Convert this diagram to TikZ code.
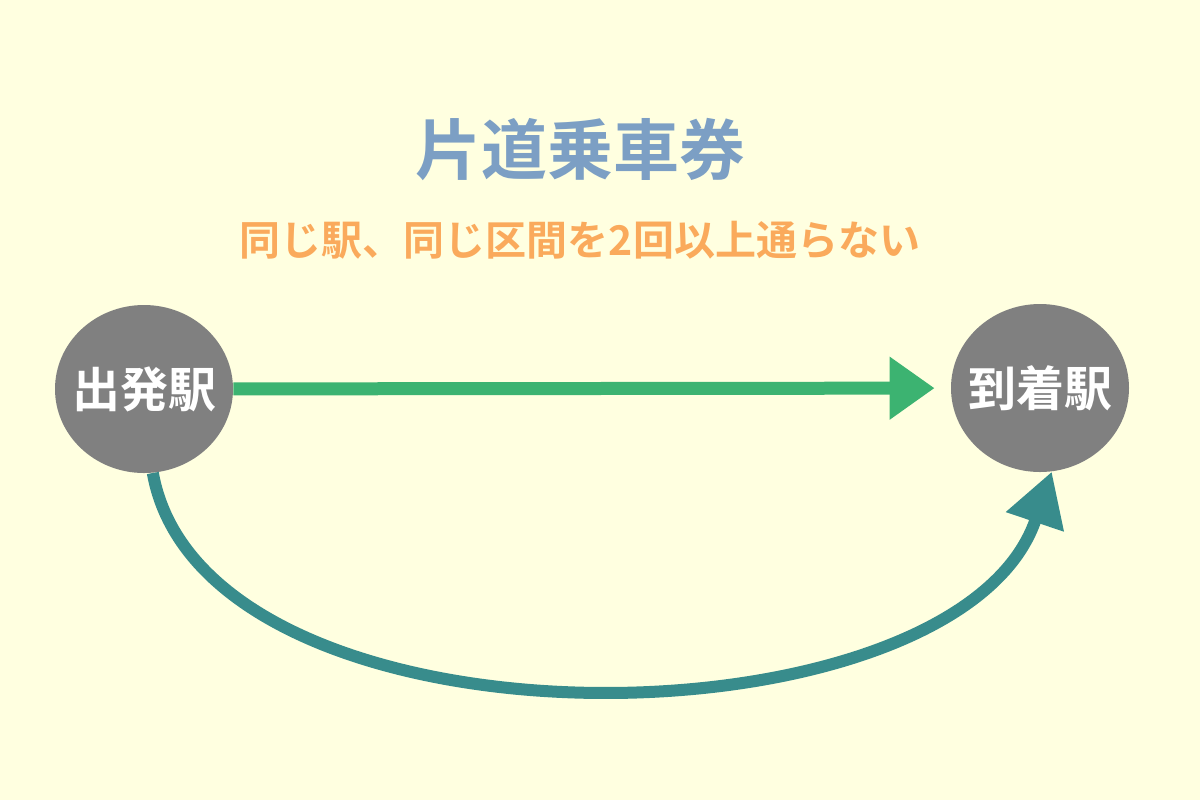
\documentclass[tikz,border=0pt]{standalone}
\usepackage{fontspec}
\setmainfont{Noto Sans CJK JP Bold}
\usetikzlibrary{arrows.meta,shapes.geometric}
\definecolor{bgc}{RGB}{255,255,224}
\definecolor{titlec}{RGB}{124,159,196}
\definecolor{subc}{RGB}{250,170,92}
\definecolor{stnc}{RGB}{128,128,128}
\definecolor{greenc}{RGB}{60,179,113}
\definecolor{tealc}{RGB}{56,140,140}
\tikzset{
  stn/.style={ellipse,fill=stnc,minimum width=89pt,minimum height=84pt,inner sep=0pt},
  stnlabel/.style={text=white,font=\fontsize{24pt}{27pt}\selectfont,inner sep=0pt},
  straightarrow/.style={draw=greenc,line width=6.5pt,-{Triangle[length=22.5pt,width=30pt]},shorten >=8pt},
  curvearrow/.style={draw=tealc,line width=6pt,-{Triangle[length=26.5pt,width=29pt]}},
}
\begin{document}
\begin{tikzpicture}[x=0.5pt,y=-0.5pt]
\fill[bgc] (0,0) rectangle (1200,800);
\useasboundingbox (0,0) rectangle (1200,800);
\node[text=titlec,font=\fontsize{33pt}{38pt}\selectfont] (title) at (580,150) {片道乗車券};
\node[text=subc,font=\fontsize{20.5pt}{24pt}\selectfont] (sub) at (580,240) {同じ駅、同じ区間を2回以上通らない};
\node[stn,label={[stnlabel]center:出発駅}] (s) at (144,389) {};
\node[stn,label={[stnlabel]center:到着駅}] (e) at (1040,388) {};
\draw[straightarrow] (s) -- (e);
\draw[curvearrow] (s.-84) .. controls +(52,290) and +(-95,282) .. (e.-82);
\end{tikzpicture}
\end{document}
